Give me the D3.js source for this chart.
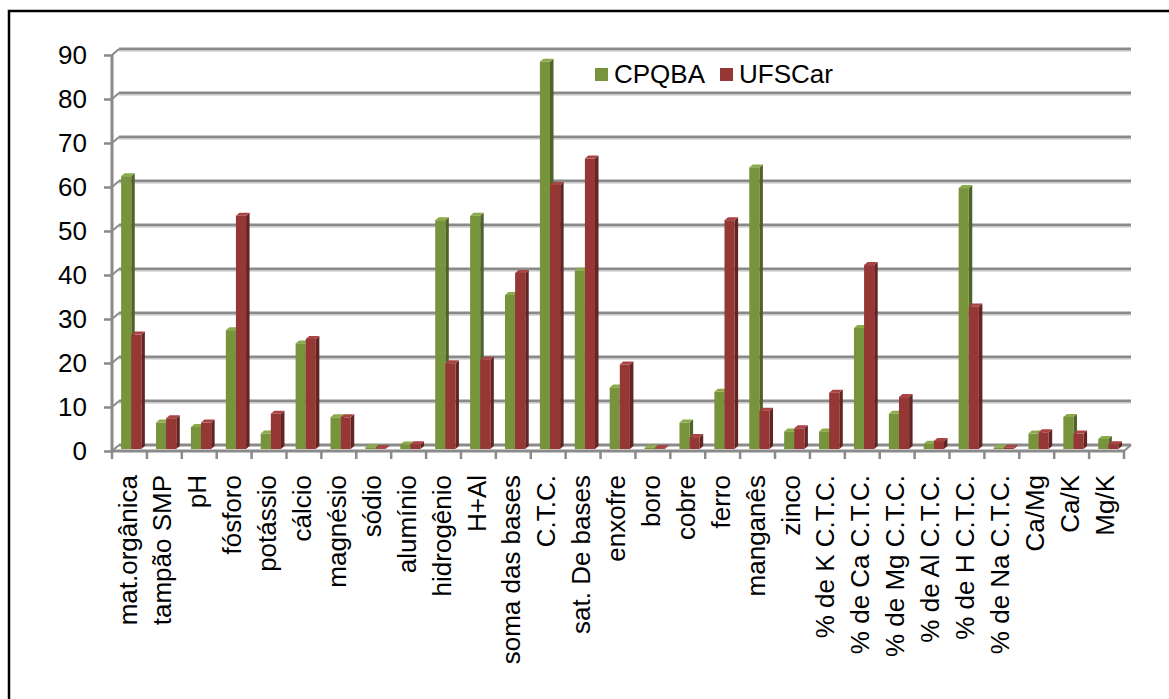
<!DOCTYPE html>
<html><head><meta charset="utf-8">
<script src="https://cdn.jsdelivr.net/npm/d3@7"></script>
<style>html,body{margin:0;padding:0;background:#fff;}svg{display:block;font-family:"Liberation Sans",Arial,sans-serif;}</style>
</head><body>
<svg id="chart" width="1169" height="699"></svg>
<script>
const categories = ["mat.orgânica","tampão SMP","pH","fósforo","potássio","cálcio","magnésio","sódio","alumínio","hidrogênio","H+Al","soma das bases","C.T.C.","sat. De bases","enxofre","boro","cobre","ferro","manganês","zinco","% de K C.T.C.","% de Ca C.T.C.","% de Mg C.T.C.","% de Al C.T.C.","% de H C.T.C.","% de Na C.T.C.","Ca/Mg","Ca/K","Mg/K"];
const seriesNames = ["CPQBA","UFSCar"];
const cpqba  = [62,6,5,27,3.5,24,7.2,0.4,1,52,53,35,88,40.5,14,0.3,6,13,64,4,4,27.5,8,1.2,59.3,0.3,3.5,7.3,2.3];
const ufscar = [26,7,6,53,8,25,7.2,0.2,1.1,19.5,20.3,40,60,66,19.2,0.2,2.7,52,8.7,4.7,12.8,41.8,11.8,1.8,32.4,0.3,3.8,3.5,1.1];
const yTicks = [0,10,20,30,40,50,60,70,80,90];

const svg = d3.select("#chart");
const L = 112, R = 1124, B = 451, T = 55;
const D = {dx: 7, dy: -6};
const colors = {CPQBA:{front:"#77933C",side:"#4F6228",top:"#8BAA48"}, UFSCar:{front:"#953735",side:"#632523",top:"#A94442"}};

// outer frame
svg.append("rect").attr("x",9).attr("y",11).attr("width",1200).attr("height",720)
  .attr("fill","none").attr("stroke","#000").attr("stroke-width",2.5);

const x = d3.scaleBand().domain(categories).range([L, R]);
const y = d3.scaleLinear().domain([0,90]).range([B, T]);
const xs = d3.scaleBand().domain(seriesNames).range([x.bandwidth()*0.19, x.bandwidth()*0.77]);

const grid = svg.append("g");
// back gridlines with connectors
yTicks.forEach(t => {
  const yy = y(t);
  if (t === 0) return;
  grid.append("line").attr("x1",L+D.dx).attr("x2",R+D.dx).attr("y1",yy+D.dy).attr("y2",yy+D.dy)
    .attr("stroke","#8a8a8a").attr("stroke-width",3);
  grid.append("line").attr("x1",L+D.dx).attr("x2",R+D.dx).attr("y1",yy+D.dy+2.2).attr("y2",yy+D.dy+2.2)
    .attr("stroke","#d0d0d0").attr("stroke-width",1);
  grid.append("line").attr("x1",L).attr("x2",L+D.dx).attr("y1",yy).attr("y2",yy+D.dy)
    .attr("stroke","#8a8a8a").attr("stroke-width",2);
});
// floor
grid.append("line").attr("x1",L+D.dx).attr("x2",R+D.dx).attr("y1",B+D.dy).attr("y2",B+D.dy).attr("stroke","#8a8a8a").attr("stroke-width",3);
grid.append("line").attr("x1",L).attr("x2",L+D.dx).attr("y1",B).attr("y2",B+D.dy).attr("stroke","#8a8a8a").attr("stroke-width",2);
grid.append("line").attr("x1",R).attr("x2",R+D.dx).attr("y1",B).attr("y2",B+D.dy).attr("stroke","#8a8a8a").attr("stroke-width",2);

// bars (at mid depth)
const bd = {dx: 3.5, dy: -3};
const mid = {dx: D.dx/2 - 1, dy: D.dy/2 + 1};
const data = [];
categories.forEach((c,i) => {
  data.push({c, s:"CPQBA", v:cpqba[i]});
  data.push({c, s:"UFSCar", v:ufscar[i]});
});
const bars = svg.append("g").selectAll("g").data(data).join("g");
bars.each(function(d){
  const g = d3.select(this);
  const x0 = x(d.c) + xs(d.s) + mid.dx, w = xs.bandwidth();
  const y0 = y(0) + mid.dy, y1 = y(d.v) + mid.dy;
  const col = colors[d.s];
  g.append("path").attr("d",`M${x0+w},${y1}L${x0+w+bd.dx},${y1+bd.dy}L${x0+w+bd.dx},${y0+bd.dy}L${x0+w},${y0}Z`).attr("fill",col.side);
  g.append("path").attr("d",`M${x0},${y1}L${x0+bd.dx},${y1+bd.dy}L${x0+w+bd.dx},${y1+bd.dy}L${x0+w},${y1}Z`).attr("fill",col.top);
  g.append("rect").attr("x",x0).attr("y",y1).attr("width",w).attr("height",Math.max(0,y0-y1)).attr("fill",col.front);
});

// front axes
svg.append("line").attr("x1",L).attr("x2",L).attr("y1",y(90)).attr("y2",B).attr("stroke","#8a8a8a").attr("stroke-width",3);
svg.append("line").attr("x1",L).attr("x2",R).attr("y1",B).attr("y2",B).attr("stroke","#8a8a8a").attr("stroke-width",3);

const yAxis = svg.append("g").attr("transform",`translate(${L},0)`)
  .call(d3.axisLeft(y).tickValues(yTicks).tickSize(8).tickPadding(17));
yAxis.select(".domain").remove();
yAxis.selectAll("line").attr("stroke","#8a8a8a").attr("stroke-width",2.5);
yAxis.selectAll("text").attr("font-size",26).attr("fill","#000").attr("font-family","Liberation Sans, Arial, sans-serif");

// x ticks
const xTickPos = categories.map(c => x(c)).concat([R]);
svg.append("g").selectAll("line").data(xTickPos).join("line")
  .attr("x1",d=>d).attr("x2",d=>d).attr("y1",B).attr("y2",B+8).attr("stroke","#8a8a8a").attr("stroke-width",2.5);

// x labels
svg.append("g").selectAll("text").data(categories).join("text")
  .attr("transform", d => `translate(${x(d)+x.bandwidth()/2-2},475) rotate(-90)`)
  .attr("text-anchor","end").attr("dy","0.35em").attr("font-size",26).attr("fill","#000")
  .text(d=>d);

// legend
const leg = svg.append("g");
const legX = [595, 720];
seriesNames.forEach((s,i)=>{
  leg.append("rect").attr("x",legX[i]).attr("y",68).attr("width",13).attr("height",13).attr("fill",colors[s].front);
  leg.append("text").attr("x",legX[i]+19).attr("y",82.5).attr("font-size",26).attr("fill","#000").text(s);
});
</script>
</body></html>
